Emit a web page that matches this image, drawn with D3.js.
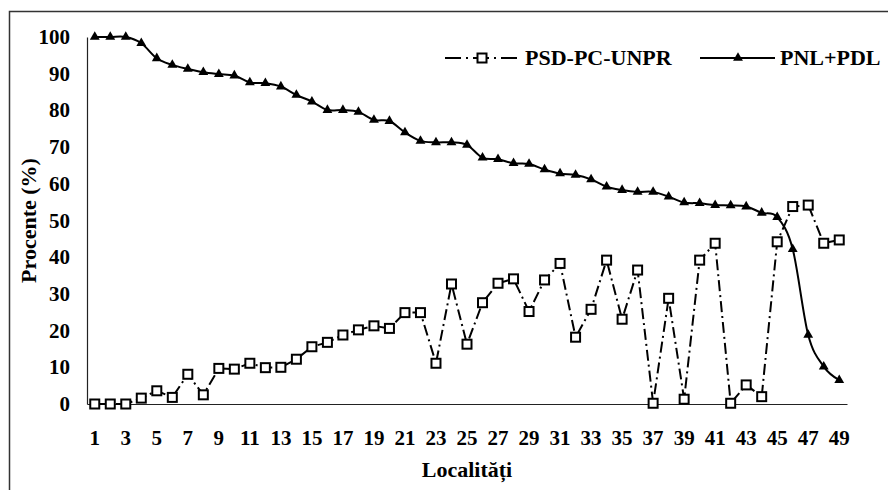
<!DOCTYPE html>
<html>
<head>
<meta charset="utf-8">
<script src="https://cdn.jsdelivr.net/npm/d3@7"></script>
<style>
  body { margin: 0; background: #fff; }
</style>
</head>
<body>
<div id="chart"></div>
<script>
// localities 1..49
const categories = d3.range(1, 50);

// PSD-PC-UNPR (%)
const psd = [0, 0, 0, 1.6, 3.6, 1.8, 8.1, 2.5, 9.7, 9.5,
  11.1, 9.9, 10, 12.2, 15.6, 16.8, 18.8, 20.2, 21.3, 20.6,
  24.9, 24.9, 11.1, 32.7, 16.3, 27.6, 32.9, 34.1, 25.2, 33.8,
  38.3, 18.2, 25.8, 39.2, 23.1, 36.5, 0.2, 28.8, 1.3, 39.2,
  43.8, 0.2, 5.2, 2.0, 44.2, 53.8, 54.2, 43.8, 44.7];

// PNL+PDL (%)
const pnl = [100, 100, 100, 98.3, 94.2, 92.4, 91.3, 90.4, 89.9, 89.5,
  87.6, 87.4, 86.5, 84.2, 82.4, 80.1, 80.1, 79.6, 77.4, 77.1,
  74, 71.7, 71.3, 71.3, 70.6, 67.1, 66.7, 65.6, 65.4, 63.9,
  62.8, 62.4, 61.2, 59.2, 58.3, 57.8, 57.8, 56.5, 54.9, 54.7,
  54.2, 54.1, 53.8, 52.1, 50.9, 42.2, 18.8, 10.2, 6.5];

const yTicks = d3.range(0, 101, 10);
const xTickLabels = categories.filter(d => d % 2 === 1);

const W = 888, H = 490;
const margin = { top: 37, right: 41, bottom: 86, left: 87 };
const font = "'Liberation Serif'";

const svg = d3.select('#chart').append('svg')
  .attr('width', W)
  .attr('height', H);

// outer frame (right and bottom fall outside the picture)
svg.append('rect')
  .attr('x', 9.5).attr('y', 11.5)
  .attr('width', 900).attr('height', 500)
  .attr('fill', 'none')
  .attr('stroke', '#333')
  .attr('stroke-width', 1.5);

const x = d3.scaleBand()
  .domain(categories)
  .range([margin.left, W - margin.right])
  .padding(0);

const y = d3.scaleLinear()
  .domain([0, 100])
  .range([H - margin.bottom, margin.top]);

const cx = d => x(d) + x.bandwidth() / 2;

// axis lines only, labels are drawn below as text
const xAxis = svg.append('g')
  .attr('transform', `translate(0, ${y(0)})`)
  .call(d3.axisBottom(x).tickValues(xTickLabels).tickSize(0).tickSizeOuter(0).tickFormat(''));
const yAxis = svg.append('g')
  .attr('transform', `translate(${margin.left}, 0)`)
  .call(d3.axisLeft(y).tickValues(yTicks).tickSize(0).tickSizeOuter(0).tickFormat(''));
[xAxis, yAxis].forEach(a => {
  a.attr('font-family', null);
  a.select('.domain').attr('stroke', '#222').attr('stroke-width', 1.2);
  a.selectAll('text').remove();
});

// inline style so nothing else can override the serif face
const serifText = sel => sel
  .style('font-family', font)
  .style('font-weight', 'bold')
  .attr('font-family', font)
  .attr('font-weight', 'bold')
  .attr('fill', '#000');

svg.append('g').selectAll('text')
  .data(xTickLabels)
  .join('text')
  .attr('x', d => cx(d))
  .attr('y', y(0) + 41)
  .attr('text-anchor', 'middle')
  .attr('font-size', 21)
  .call(serifText)
  .text(d => d);

svg.append('g').selectAll('text')
  .data(yTicks)
  .join('text')
  .attr('x', margin.left - 17)
  .attr('y', d => y(d) + 7)
  .attr('text-anchor', 'end')
  .attr('font-size', 21)
  .call(serifText)
  .text(d => d);

// axis titles
svg.append('text')
  .attr('x', (margin.left + W - margin.right) / 2)
  .attr('y', 477)
  .attr('text-anchor', 'middle')
  .attr('font-size', 22)
  .call(serifText)
  .text('Localități');

svg.append('text')
  .attr('transform', `translate(36, ${(y(0) + y(100)) / 2}) rotate(-90)`)
  .attr('text-anchor', 'middle')
  .attr('font-size', 22)
  .call(serifText)
  .text('Procente (%)');

// lines: PSD straight, PNL smoothed
const linePsd = d3.line()
  .x((d, i) => cx(categories[i]))
  .y(d => y(d));

const linePnl = d3.line()
  .x((d, i) => cx(categories[i]))
  .y(d => y(d))
  .curve(d3.curveCardinal.tension(0));

svg.append('path')
  .datum(psd)
  .attr('d', linePsd)
  .attr('fill', 'none')
  .attr('stroke', '#000')
  .attr('stroke-width', 2)
  .attr('stroke-dasharray', '11,4,2,4');

svg.append('path')
  .datum(pnl)
  .attr('d', linePnl)
  .attr('fill', 'none')
  .attr('stroke', '#000')
  .attr('stroke-width', 2);

// markers
const sq = 9;
svg.append('g').selectAll('rect')
  .data(psd)
  .join('rect')
  .attr('x', (d, i) => cx(categories[i]) - sq / 2)
  .attr('y', d => y(d) - sq / 2)
  .attr('width', sq)
  .attr('height', sq)
  .attr('fill', '#fff')
  .attr('stroke', '#000')
  .attr('stroke-width', 2);

const tri = d3.symbol().type(d3.symbolTriangle).size(42);
svg.append('g').selectAll('path')
  .data(pnl)
  .join('path')
  .attr('transform', (d, i) => `translate(${cx(categories[i])}, ${y(d)})`)
  .attr('d', tri)
  .attr('fill', '#000');

// legend
const ly = 58;
const leg = svg.append('g');

leg.append('line')
  .attr('x1', 445).attr('x2', 519)
  .attr('y1', ly).attr('y2', ly)
  .attr('stroke', '#000').attr('stroke-width', 2)
  .attr('stroke-dasharray', '16,5,2,5');
leg.append('rect')
  .attr('x', 482 - sq / 2).attr('y', ly - sq / 2)
  .attr('width', sq).attr('height', sq)
  .attr('fill', '#fff').attr('stroke', '#000').attr('stroke-width', 2);
leg.append('text')
  .attr('x', 525).attr('y', ly + 7)
  .attr('font-size', 22)
  .call(serifText)
  .text('PSD-PC-UNPR');

leg.append('line')
  .attr('x1', 700).attr('x2', 775)
  .attr('y1', ly).attr('y2', ly)
  .attr('stroke', '#000').attr('stroke-width', 2);
leg.append('path')
  .attr('transform', `translate(738, ${ly})`)
  .attr('d', tri)
  .attr('fill', '#000');
leg.append('text')
  .attr('x', 780).attr('y', ly + 7)
  .attr('font-size', 22)
  .call(serifText)
  .text('PNL+PDL');
</script>
</body>
</html>
